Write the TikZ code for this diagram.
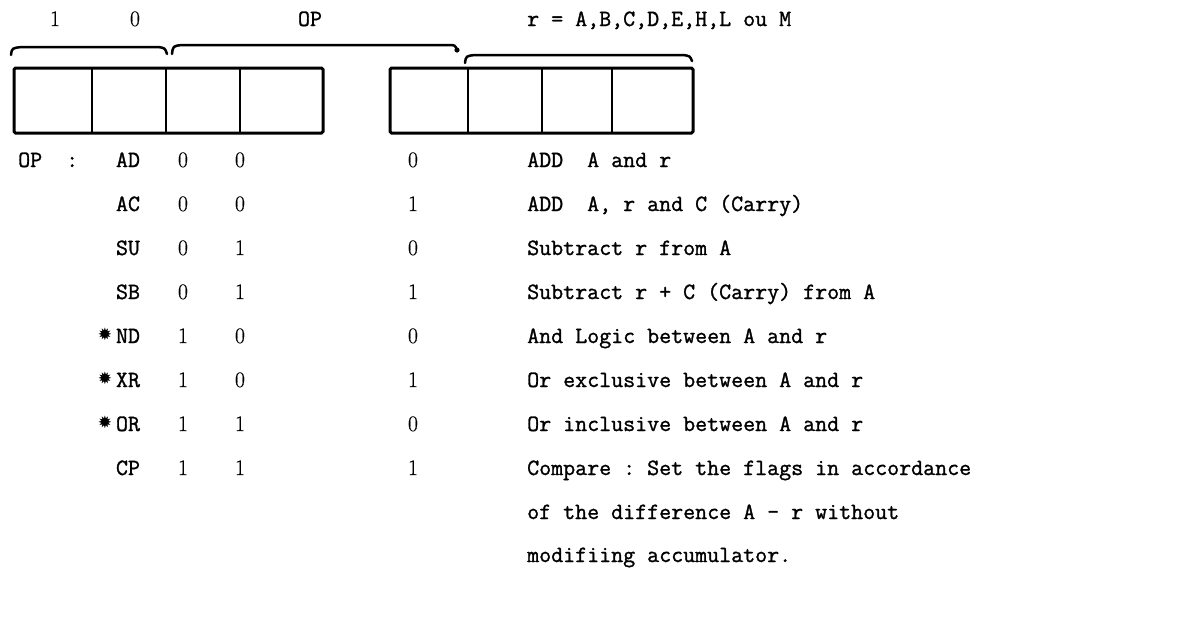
\documentclass[tikz,border=0pt]{standalone}
\usepackage{fontspec}
\setmonofont[FakeBold=1.2]{Latin Modern Mono}
\newfontfamily\digfont[FakeBold=0.6]{Latin Modern Roman}
\newfontfamily\starfont{DejaVu Sans}
\begin{document}
\begin{tikzpicture}[x=1pt,y=-1pt,
  txt/.style={font=\ttfamily\fontsize{23.3}{28}\selectfont, inner sep=0pt},
  dig/.style={font=\digfont\fontsize{22}{26}\selectfont, inner sep=0pt, anchor=base},
  outerbox/.style={line width=3pt, rounded corners=1.5pt},
  divider/.style={line width=2pt},
  bracepath/.style={line width=2.5pt, line cap=round}]
\useasboundingbox (0,0) rectangle (1186,633);
% register boxes
\draw[outerbox] (14,68) rectangle (323,133);
\foreach \x in {92,166,240} \draw[divider] (\x,68) -- (\x,133);
\draw[outerbox] (390,68) rectangle (693,133);
\foreach \x in {468,542,612} \draw[divider] (\x,68) -- (\x,133);
% braces
\draw[bracepath] (11,55) .. controls (12,48) .. (22,47) -- (158,47) .. controls (165,48) .. (167,54);
\draw[bracepath] (172,54) .. controls (173,46) .. (182,45) -- (448,45) .. controls (455,45) .. (457,50);
\fill (457,50) circle (2.6);
\draw[bracepath] (465,63) .. controls (466,56) .. (475,55) -- (683,55) .. controls (690,56) .. (692,61);
% top labels
\node[dig] (t1) at (55,26) {1};
\node[dig] (t0) at (135,26) {0};
\node[txt, anchor=base] (top) at (310,26) {OP};
\node[txt, anchor=base west] (tr) at (527,26) {r = A,B,C,D,E,H,L ou M};
% table
\node[txt, anchor=base west] (oplbl) at (18,167) {OP\ \ :};
\foreach \y/\code/\a/\b/\c/\desc/\st [count=\i] in {
  160/AD/0/0/0/{ADD\ \ A and r}/0,
  204/AC/0/0/1/{ADD\ \ A, r and C (Carry)}/0,
  248/SU/0/1/0/{Subtract r from A}/0,
  292/SB/0/1/1/{Subtract r + C (Carry) from A}/0,
  336/ND/1/0/0/{And Logic between A and r}/1,
  380/XR/1/0/1/{Or exclusive between A and r}/1,
  424/OR/1/1/0/{Or inclusive between A and r}/1,
  468/CP/1/1/1/{Compare : Set the flags in accordance}/0}{
  \node[txt, anchor=base] (code\i) at (128,\y+7) {\code};
  \node[dig] (a\i) at (183,\y+7) {\a};
  \node[dig] (b\i) at (240,\y+7) {\b};
  \node[dig] (c\i) at (413,\y+7) {\c};
  \node[txt, anchor=base west] (d\i) at (527,\y+7) {\desc};
  \ifnum\st=1
    \node[inner sep=0pt, font=\starfont\fontsize{17}{17}\selectfont] (s\i) at (105,\y-2) {✹};
  \fi
}
\node[txt, anchor=base west] (d9) at (527,519) {of the difference A - r without};
\node[txt, anchor=base west] (d10) at (527,562) {modifiing accumulator.};
\end{tikzpicture}
\end{document}
